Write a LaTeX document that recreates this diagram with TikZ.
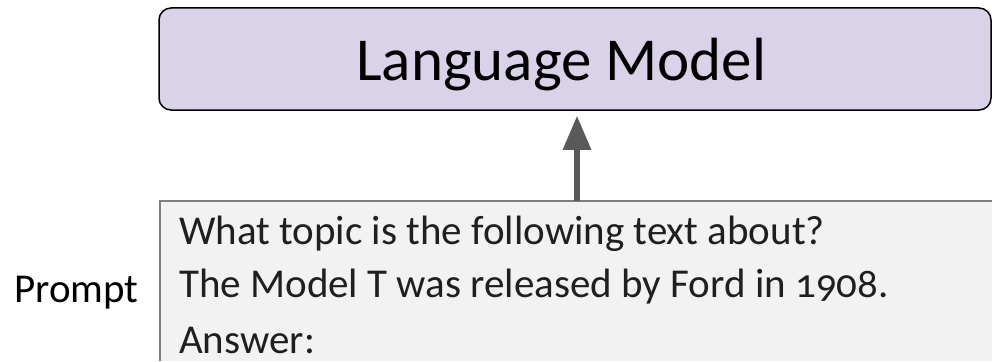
\documentclass[tikz,border=0pt]{standalone}
\usepackage{fontspec}
\setmainfont{Carlito}[Numbers=OldStyle]
\usetikzlibrary{arrows.meta}
\definecolor{lmfill}{HTML}{D9D2E9}
\definecolor{boxfill}{HTML}{F2F2F2}
\definecolor{boxline}{HTML}{7F7F7F}
\definecolor{arrowgray}{HTML}{595959}
\definecolor{textdark}{HTML}{1F1F1F}
\tikzset{
  lmbox/.style={draw=black, line width=1.5pt, fill=lmfill, rounded corners=12pt,
    minimum width=832pt, minimum height=102pt, inner sep=0pt},
  lmtext/.style={anchor=base west, inner sep=0pt, font=\fontsize{61}{73}\selectfont},
  qline/.style={anchor=base west, inner sep=0pt, text=textdark, font=\fontsize{41}{50}\selectfont},
  sidelabel/.style={anchor=base west, inner sep=0pt, font=\fontsize{41}{50}\selectfont},
  feed/.style={draw=arrowgray, line width=6pt, shorten >=5pt,
    -{Triangle[length=34pt,width=27pt]}}
}
\begin{document}
\begin{tikzpicture}[x=1pt,y=-1pt]
  \useasboundingbox (0,0) rectangle (992,361);
  % model block
  \node[lmbox] (lm) at (575,59) {};
  \node[lmtext] (lmlabel) at (356,80) {Language Model};
  % prompt panel, open to the right and bottom
  \fill[boxfill] (160,201) rectangle (992,361);
  \draw[boxline, line width=1.2pt] (160,361) -- (160,201) -- (992,201);
  \coordinate (box) at (576,201);
  \node[qline] (q1) at (179,244) {What topic is the following text about?};
  \node[qline] (q2) at (179,297) {The Model T was released by Ford in 1908.};
  \node[qline] (q3) at (179,353) {Answer:};
  \node[sidelabel] (plabel) at (14,302) {Prompt};
  % input flows into the model
  \coordinate (ax) at (577,0);
  \draw[feed] (box -| ax) -- (lm.south -| ax);
\end{tikzpicture}
\end{document}
